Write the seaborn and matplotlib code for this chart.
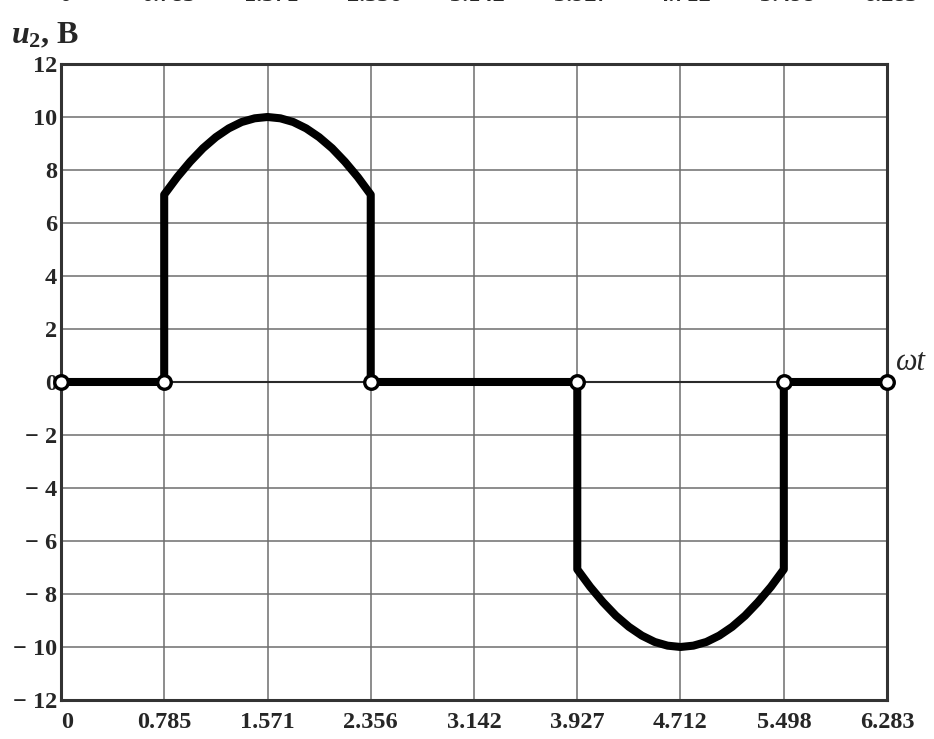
import numpy as np
import pandas as pd
import matplotlib
matplotlib.use("Agg")
import matplotlib.pyplot as plt
import seaborn as sns

# Phase angle ticks (rad) and their printed labels
x_ticks = [0.0, 0.785, 1.571, 2.356, 3.142, 3.927, 4.712, 5.498, 6.283]
x_labels = ["0", "0.785", "1.571", "2.356", "3.142", "3.927", "4.712", "5.498", "6.283"]
y_ticks = [-12, -10, -8, -6, -4, -2, 0, 2, 4, 6, 8, 10, 12]

# Positive conduction interval of the output voltage
pos_wt = [0.785, 0.884, 0.982, 1.080, 1.178, 1.276, 1.374, 1.473, 1.571,
          1.669, 1.767, 1.865, 1.963, 2.062, 2.160, 2.258, 2.356]
pos_u = [7.07, 7.73, 8.31, 8.82, 9.24, 9.57, 9.81, 9.95, 10.0,
         9.95, 9.81, 9.57, 9.24, 8.82, 8.31, 7.73, 7.07]
# Negative conduction interval
neg_wt = [3.927, 4.025, 4.123, 4.221, 4.320, 4.418, 4.516, 4.614, 4.712,
          4.810, 4.909, 5.007, 5.105, 5.203, 5.301, 5.400, 5.498]
neg_u = [-7.07, -7.73, -8.31, -8.82, -9.24, -9.57, -9.81, -9.95, -10.0,
         -9.95, -9.81, -9.57, -9.24, -8.82, -8.31, -7.73, -7.07]
# Switching instants (open circles on the axis)
switch_wt = [0.0, 0.785, 2.356, 3.927, 5.498, 6.283]
switch_u = [0, 0, 0, 0, 0, 0]

# Full waveform path, including the vertical jumps
wt = [0.0, 0.785] + pos_wt + [2.356, 3.927] + neg_wt + [5.498, 6.283]
u2 = [0.0, 0.0] + pos_u + [0.0, 0.0] + neg_u + [0.0, 0.0]
wave = pd.DataFrame({"wt": wt, "u2": u2})
pts = pd.DataFrame({"wt": switch_wt, "u2": switch_u})

sns.set_style("white")
serif = "Liberation Serif"
plt.rcParams["mathtext.fontset"] = "custom"
plt.rcParams["mathtext.it"] = "Liberation Serif:italic:bold"
plt.rcParams["mathtext.rm"] = "Liberation Serif:bold"
plt.rcParams["mathtext.bf"] = "Liberation Serif:bold"

fig = plt.figure(figsize=(9.34, 7.39), dpi=100)
ax = fig.add_axes([0.0653, 0.0528, 0.9497 - 0.0653, 0.9134 - 0.0528])

ax.set_xlim(0, 6.283)
ax.set_ylim(-12, 12)
ax.set_xticks(x_ticks)
ax.set_yticks(y_ticks)
ax.grid(True, color="#6e6e6e", linewidth=1.1)
ax.axhline(0, color="#2a2a2a", linewidth=1.5, zorder=2)

sns.lineplot(data=wave, x="wt", y="u2", sort=False, estimator=None,
             color="black", linewidth=5.8, ax=ax, zorder=3,
             solid_joinstyle="round", solid_capstyle="round")
sns.scatterplot(data=pts, x="wt", y="u2", ax=ax, s=95, color="white",
                edgecolor="black", linewidth=2.4, zorder=4, clip_on=False)

ax.set_xlabel("")
ax.set_ylabel("")
ax.set_xticklabels(x_labels)
ax.set_yticklabels([("\u2212 " + str(abs(v))) if v < 0 else str(v) for v in y_ticks])
ax.tick_params(axis="x", length=0, pad=9)
ax.tick_params(axis="y", length=0, pad=3)
for lab in ax.get_xticklabels() + ax.get_yticklabels():
    lab.set_fontfamily(serif)
    lab.set_fontweight("bold")
    lab.set_fontsize(17.5)
# first x label sits just right of the corner
ax.get_xticklabels()[0].set_horizontalalignment("left")

for s in ax.spines.values():
    s.set_visible(True)
    s.set_color("#333333")
    s.set_linewidth(2.2)

# Axis captions
fig.text(0.012, 0.932, r"$u_2$, B", fontsize=23, fontfamily=serif,
         fontweight="bold", ha="left", va="bottom")
ax.text(6.283 + 0.07, 0.2, "\u03c9t", fontsize=22, fontfamily=serif,
        fontstyle="italic", ha="left", va="bottom", clip_on=False)

# Tick labels of the preceding panel, running off the top edge
for xv, lab in zip(x_ticks, x_labels):
    xf = ax.transData.transform((xv, 0))[0] / fig.bbox.width
    fig.text(xf + 0.004, 1.0065, lab, fontsize=17.5, fontfamily=serif,
             fontweight="bold", ha="center", va="center")

fig.savefig("out.png", dpi=100)
